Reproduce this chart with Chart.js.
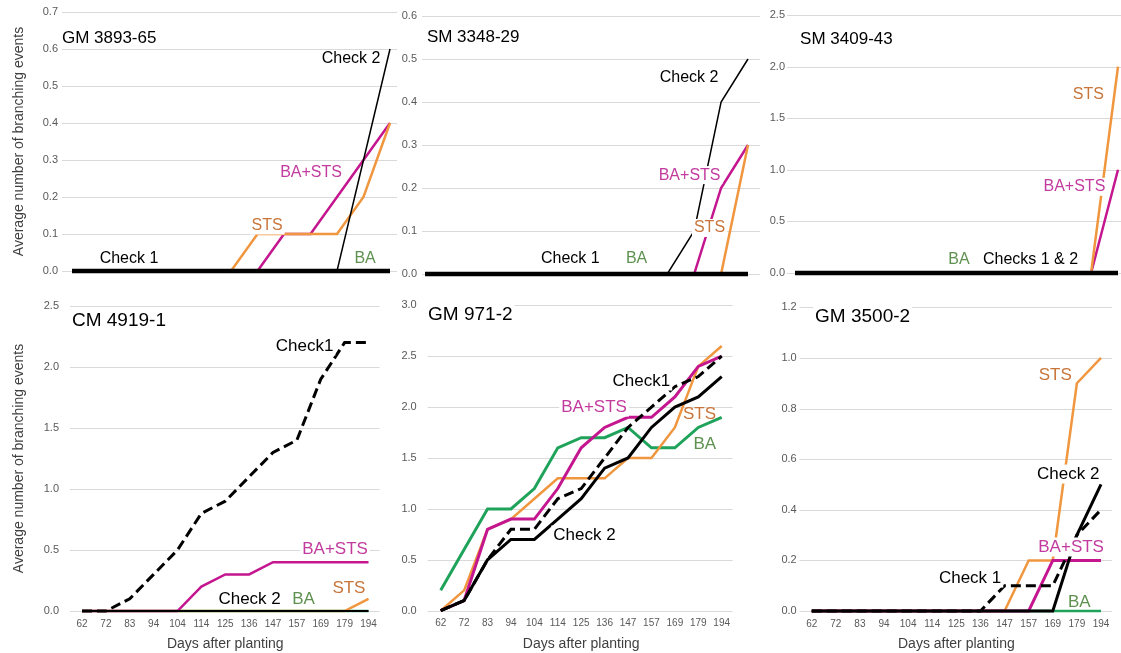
<!DOCTYPE html>
<html>
<head>
<meta charset="utf-8">
<script src="https://cdn.jsdelivr.net/npm/chart.js@4.4.0/dist/chart.umd.min.js"></script>
<style>
  body { margin: 0; background: #fff; width: 1121px; height: 653px; position: relative; overflow: hidden; }
  .panel { position: absolute; }
</style>
</head>
<body>
<div class="panel" style="left:0px;top:0px;width:400px;height:290px"><canvas id="c1"></canvas></div>
<div class="panel" style="left:385px;top:0px;width:385px;height:290px"><canvas id="c2"></canvas></div>
<div class="panel" style="left:760px;top:0px;width:361px;height:290px"><canvas id="c3"></canvas></div>
<div class="panel" style="left:0px;top:290px;width:400px;height:363px"><canvas id="c4"></canvas></div>
<div class="panel" style="left:385px;top:290px;width:385px;height:363px"><canvas id="c5"></canvas></div>
<div class="panel" style="left:760px;top:290px;width:361px;height:363px"><canvas id="c6"></canvas></div>
<script>
const days = ['62', '72', '83', '94', '104', '114', '125', '136', '147', '157', '169', '179', '194']

// ***** data *****
// GM 3893-65
const gm3893Check1 = [0, 0, 0, 0, 0, 0, 0, 0, 0, 0, 0, 0, 0]
const gm3893Check2 = [0, 0, 0, 0, 0, 0, 0, 0, 0, 0, 0, 0.3, 0.6]
const gm3893BA     = [0, 0, 0, 0, 0, 0, 0, 0, 0, 0, 0, 0, 0]
const gm3893STS    = [0, 0, 0, 0, 0, 0, 0, 0.1, 0.1, 0.1, 0.1, 0.2, 0.4]
const gm3893BASTS  = [0, 0, 0, 0, 0, 0, 0, 0, 0.1, 0.1, 0.2, 0.3, 0.4]

// SM 3348-29
const sm3348Check1 = [0, 0, 0, 0, 0, 0, 0, 0, 0, 0, 0, 0, 0]
const sm3348Check2 = [0, 0, 0, 0, 0, 0, 0, 0, 0, 0, 0.1, 0.4, 0.5]
const sm3348BA     = [0, 0, 0, 0, 0, 0, 0, 0, 0, 0, 0, 0, 0]
const sm3348STS    = [0, 0, 0, 0, 0, 0, 0, 0, 0, 0, 0, 0, 0.3]
const sm3348BASTS  = [0, 0, 0, 0, 0, 0, 0, 0, 0, 0, 0, 0.2, 0.3]

// SM 3409-43
const sm3409Checks = [0, 0, 0, 0, 0, 0, 0, 0, 0, 0, 0, 0, 0]
const sm3409BA     = [0, 0, 0, 0, 0, 0, 0, 0, 0, 0, 0, 0, 0]
const sm3409STS    = [0, 0, 0, 0, 0, 0, 0, 0, 0, 0, 0, 0, 2.0]
const sm3409BASTS  = [0, 0, 0, 0, 0, 0, 0, 0, 0, 0, 0, 0, 1.0]

// CM 4919-1
const cm4919Check1 = [0, 0, 0.1, 0.3, 0.5, 0.8, 0.9, 1.1, 1.3, 1.4, 1.9, 2.2, 2.2]
const cm4919Check2 = [0, 0, 0, 0, 0, 0, 0, 0, 0, 0, 0, 0, 0]
const cm4919BA     = [0, 0, 0, 0, 0, 0, 0, 0, 0, 0, 0, 0, 0]
const cm4919STS    = [0, 0, 0, 0, 0, 0, 0, 0, 0, 0, 0, 0, 0.1]
const cm4919BASTS  = [0, 0, 0, 0, 0, 0.2, 0.3, 0.3, 0.4, 0.4, 0.4, 0.4, 0.4]

// GM 971-2
const gm971Check1 = [0, 0.1, 0.5, 0.8, 0.8, 1.1, 1.2, 1.5, 1.8, 2.0, 2.2, 2.3, 2.5]
const gm971Check2 = [0, 0.1, 0.5, 0.7, 0.7, 0.9, 1.1, 1.4, 1.5, 1.8, 2.0, 2.1, 2.3]
const gm971BA     = [0.2, 0.6, 1.0, 1.0, 1.2, 1.6, 1.7, 1.7, 1.8, 1.6, 1.6, 1.8, 1.9]
const gm971STS    = [0, 0.2, 0.8, 0.9, 1.1, 1.3, 1.3, 1.3, 1.5, 1.5, 1.8, 2.4, 2.6]
const gm971BASTS  = [0, 0.1, 0.8, 0.9, 0.9, 1.2, 1.6, 1.8, 1.9, 1.9, 2.1, 2.4, 2.5]

// GM 3500-2
const gm3500Check1 = [0, 0, 0, 0, 0, 0, 0, 0, 0.1, 0.1, 0.1, 0.3, 0.4]
const gm3500Check2 = [0, 0, 0, 0, 0, 0, 0, 0, 0, 0, 0, 0.3, 0.5]
const gm3500BA     = [0, 0, 0, 0, 0, 0, 0, 0, 0, 0, 0, 0, 0]
const gm3500STS    = [0, 0, 0, 0, 0, 0, 0, 0, 0, 0.2, 0.2, 0.9, 1.0]
const gm3500BASTS  = [0, 0, 0, 0, 0, 0, 0, 0, 0, 0, 0.2, 0.2, 0.2]

// y axis tops / steps, one per panel
const yMax  = [0.7, 0.6, 2.5, 2.5, 3.0, 1.2]
const yStep = [0.1, 0.1, 0.5, 0.5, 0.5, 0.2]

const FONT = '"Liberation Sans", Arial, sans-serif'
const orange = '#F0963F'
const magenta = '#C4168F'
const green = '#1FA35B'
const txtSTS = '#C8753A'
const txtBASTS = '#C23B9E'
const txtBA = '#5E9150'

Chart.defaults.font.family = FONT

// ***** plugins *****
// horizontal gridlines that run a bit past the first/last point, like the original
const wideGrid = {
  id: 'wideGrid',
  beforeDatasetsDraw(chart, args, opts) {
    const { ctx, chartArea: a, scales: { y } } = chart
    ctx.save()
    ctx.strokeStyle = '#d9d9d9'
    ctx.lineWidth = 1
    y.ticks.forEach((t, i) => {
      const py = Math.round(y.getPixelForTick(i)) + 0.5
      ctx.beginPath()
      ctx.moveTo(a.left - opts.left, py)
      ctx.lineTo(a.right + opts.right, py)
      ctx.stroke()
    })
    ctx.restore()
  }
}

// series names and panel title written on the plot
const notes = {
  id: 'notes',
  afterDatasetsDraw(chart, args, opts) {
    const { ctx, scales: { x, y } } = chart
    ctx.save()
    ctx.textBaseline = 'middle'
    opts.items.forEach(n => {
      ctx.font = (n.size || opts.size) + 'px ' + FONT
      const w = ctx.measureText(n.text).width
      const h = (n.size || opts.size) + 2
      const px = x.getPixelForValue(n.x)
      const py = y.getPixelForValue(n.y)
      const left = n.align === 'left' ? px : px - w / 2
      if (n.bg !== false) {
        ctx.fillStyle = '#fff'
        ctx.fillRect(left - 2, py - h / 2, w + 4, h)
      }
      ctx.fillStyle = n.color || '#000'
      ctx.textAlign = 'left'
      ctx.fillText(n.text, left, py)
    })
    ctx.restore()
  }
}

const line = (label, data, color, width, dash) => ({
  label: label,
  data: data,
  borderColor: color,
  backgroundColor: color,
  borderWidth: width,
  borderDash: dash || [],
  pointRadius: 0,
  tension: 0,
  fill: false,
  clip: false
})

const makeChart = (id, n, datasets, p) => {
  const bottomRow = n >= 3
  const xScale = {
    display: bottomRow,
    offset: false,
    grid: { display: false, drawTicks: false },
    border: { display: false },
    ticks: { color: '#595959', font: { size: 10 }, padding: 7, maxRotation: 0, autoSkip: false },
    title: { display: true, text: 'Days after planting', color: '#404040', font: { size: 14 }, padding: { top: 0, bottom: 0 } }
  }
  if (bottomRow) xScale.afterFit = s => { s.height = p.xh }

  new Chart(document.getElementById(id), {
    type: 'line',
    data: { labels: days, datasets: datasets },
    plugins: [wideGrid, notes],
    options: {
      responsive: true,
      maintainAspectRatio: false,
      animation: false,
      layout: { padding: { top: p.top, right: p.right, bottom: bottomRow ? 0 : p.bottom, left: 0 } },
      plugins: {
        legend: { display: false },
        tooltip: { enabled: false },
        wideGrid: { left: p.gl, right: p.gr },
        notes: { size: bottomRow ? 17 : 16, items: p.notes }
      },
      scales: {
        x: xScale,
        y: {
          min: 0,
          max: yMax[n],
          grid: { display: false, drawTicks: false },
          border: { display: false },
          ticks: { stepSize: yStep[n], color: '#595959', font: { size: 11 }, padding: p.tp, callback: v => v.toFixed(1) },
          title: { display: p.ytitle, text: 'Average number of branching events', color: '#404040', font: { size: 14 }, padding: { top: 11, bottom: 0 } },
          afterFit: s => {
            s.width = p.yw
            // the tick padding would otherwise also push the plot down
            s.paddingTop = 0
            s.paddingBottom = 0
          }
        }
      }
    }
  })
}

// ***** the six panels *****
makeChart('c1', 0, [
  line('Check 1', gm3893Check1, '#000', 4.5),
  line('Check 2', gm3893Check2, '#000', 1.5),
  line('STS', gm3893STS, orange, 2.5),
  line('BA+STS', gm3893BASTS, magenta, 2.5),
  line('BA', gm3893BA, green, 2.5)
], {
  top: 12, right: 10, bottom: 19, yw: 72, tp: 14, gl: 10, gr: 7, ytitle: true,
  notes: [
    { text: 'GM 3893-65', x: -0.38, y: 0.629, align: 'left', size: 17 },
    { text: 'Check 2', x: 10.53, y: 0.575, bg: false },
    { text: 'BA+STS', x: 9.02, y: 0.267, color: txtBASTS },
    { text: 'STS', x: 7.36, y: 0.123, color: txtSTS },
    { text: 'Check 1', x: 2.15, y: 0.034 },
    { text: 'BA', x: 11.06, y: 0.034, color: txtBA }
  ]
})

makeChart('c2', 1, [
  line('Check 1', sm3348Check1, '#000', 4.5),
  line('Check 2', sm3348Check2, '#000', 1.5),
  line('STS', sm3348STS, orange, 2.5),
  line('BA+STS', sm3348BASTS, magenta, 2.5),
  line('BA', sm3348BA, green, 2.5)
], {
  top: 16, right: 22, bottom: 16, yw: 40, tp: 8, gl: 3, gr: 12, ytitle: false,
  notes: [
    { text: 'SM 3348-29', x: 0.07, y: 0.551, align: 'left', size: 17 },
    { text: 'Check 2', x: 9.81, y: 0.456 },
    { text: 'BA+STS', x: 9.83, y: 0.23, color: txtBASTS },
    { text: 'STS', x: 10.57, y: 0.107, color: txtSTS },
    { text: 'Check 1', x: 5.4, y: 0.035 },
    { text: 'BA', x: 7.86, y: 0.035, color: txtBA }
  ]
})

makeChart('c3', 2, [
  line('Checks 1 & 2', sm3409Checks, '#000', 4.5),
  line('STS', sm3409STS, orange, 2.5),
  line('BA+STS', sm3409BASTS, magenta, 2.5),
  line('BA', sm3409BA, green, 2.5)
], {
  top: 15, right: 3, bottom: 17, yw: 35, tp: 10, gl: 8, gr: 3, ytitle: false,
  notes: [
    { text: 'SM 3409-43', x: 0.19, y: 2.268, align: 'left', size: 17 },
    { text: 'STS', x: 10.9, y: 1.726, color: txtSTS, bg: false },
    { text: 'BA+STS', x: 10.38, y: 0.835, color: txtBASTS },
    { text: 'BA', x: 6.09, y: 0.129, color: txtBA },
    { text: 'Checks 1 & 2', x: 8.75, y: 0.129 }
  ]
})

makeChart('c4', 3, [
  line('Check 2', cm4919Check2, '#000', 2),
  line('Check1', cm4919Check1, '#000', 3, [10, 5]),
  line('BA+STS', cm4919BASTS, magenta, 2.5),
  line('STS', cm4919STS, orange, 2.5),
  line('BA', cm4919BA, green, 2.5)
], {
  top: 16, right: 31.5, yw: 82, xh: 42, tp: 23, gl: 12, gr: 11, ytitle: true,
  notes: [
    { text: 'CM 4919-1', x: -0.42, y: 2.377, align: 'left', size: 19 },
    { text: 'Check1', x: 9.32, y: 2.172 },
    { text: 'BA+STS', x: 10.6, y: 0.508, color: txtBASTS },
    { text: 'STS', x: 11.18, y: 0.189, color: txtSTS },
    { text: 'Check 2', x: 7.02, y: 0.098 },
    { text: 'BA', x: 9.28, y: 0.098, color: txtBA }
  ]
})

makeChart('c5', 4, [
  line('Check1', gm971Check1, '#000', 3, [10, 5]),
  line('Check 2', gm971Check2, '#000', 3),
  line('BA+STS', gm971BASTS, magenta, 3),
  line('STS', gm971STS, orange, 2.5),
  line('BA', gm971BA, green, 3)
], {
  top: 15.3, right: 48.3, yw: 55.7, xh: 42.3, tp: 24, gl: 13, gr: 11, ytitle: false,
  notes: [
    { text: 'GM 971-2', x: -0.54, y: 2.905, align: 'left', size: 19 },
    { text: 'Check1', x: 8.57, y: 2.256 },
    { text: 'BA+STS', x: 6.55, y: 2.0, color: txtBASTS },
    { text: 'STS', x: 11.05, y: 1.93, color: txtSTS, bg: false },
    { text: 'BA', x: 11.28, y: 1.63, color: txtBA, bg: false },
    { text: 'Check 2', x: 6.14, y: 0.744 }
  ]
})

makeChart('c6', 5, [
  line('Check 2', gm3500Check2, '#000', 3),
  line('Check 1', gm3500Check1, '#000', 3, [10, 5]),
  line('BA+STS', gm3500BASTS, magenta, 3),
  line('STS', gm3500STS, orange, 2.5),
  line('BA', gm3500BA, green, 2.5)
], {
  top: 17.3, right: 20, yw: 51.7, xh: 42, tp: 15, gl: 12, gr: 11, ytitle: false,
  notes: [
    { text: 'GM 3500-2', x: 0.14, y: 1.162, align: 'left', size: 19 },
    { text: 'STS', x: 10.1, y: 0.932, color: txtSTS },
    { text: 'Check 2', x: 10.64, y: 0.541 },
    { text: 'BA+STS', x: 10.76, y: 0.253, color: txtBASTS },
    { text: 'Check 1', x: 6.57, y: 0.13 },
    { text: 'BA', x: 11.1, y: 0.036, color: txtBA, bg: false }
  ]
})
</script>
</body>
</html>
